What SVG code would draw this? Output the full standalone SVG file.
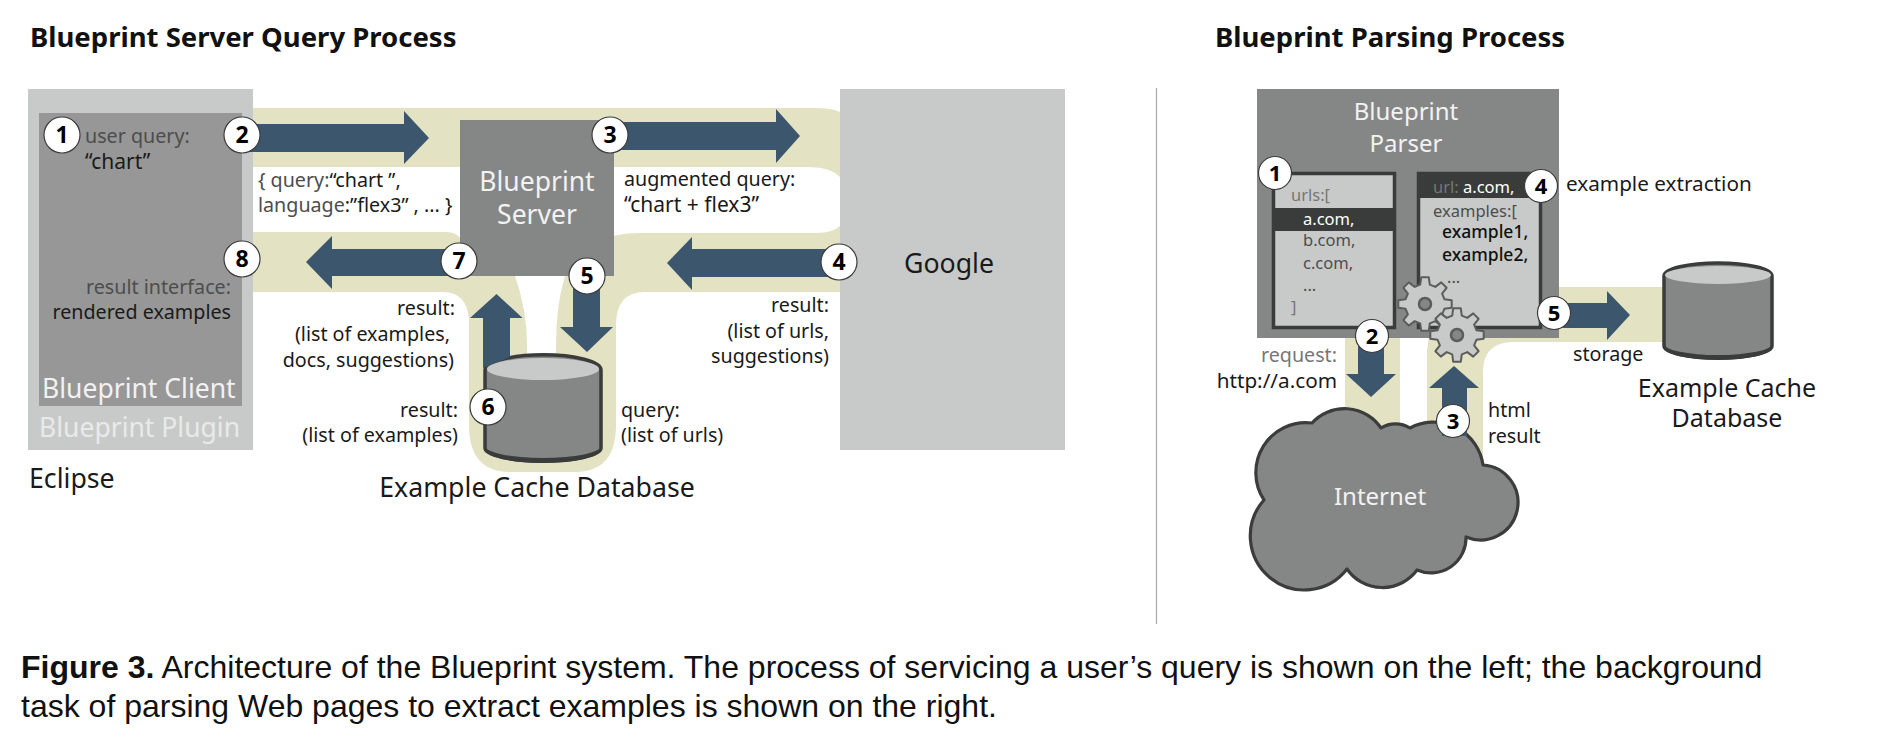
<svg xmlns="http://www.w3.org/2000/svg" width="1880" height="746" viewBox="0 0 1880 746">
<style>
text{font-family:"Noto Sans","Open Sans",sans-serif;font-size:19.700px;fill:#1a1a1a}
.g{fill:#4d4d4d}.lg{fill:#777}
.e{text-anchor:end}.m{text-anchor:middle}
.big{font-size:26.500px;fill:#f2f2f2}
.med{font-size:24px}
.lab{font-size:25px;fill:#1a1a1a}
.lab2{font-size:26.700px;fill:#1a1a1a}
.title{font-size:27.500px;font-weight:700;fill:#111}
.cap{font-family:"Liberation Sans",Arial,sans-serif;font-size:32px;fill:#111}
.num{font-size:23px;font-weight:700;fill:#000;text-anchor:middle}
.num2{font-size:22px}
.badge{fill:#fff;stroke:#3c3c3c;stroke-width:1.2}
.band{fill:#e3e2c3}.cut{fill:#fff}
.arrow{fill:#3b566d}
.dark{fill:#858786}.light{fill:#c8caca}
.edge{stroke:#3a3c3c;stroke-width:3.500}
.band2{fill:#3a3c3c}
.gear{fill:#c8caca;stroke:#5c5c5c;stroke-width:2;stroke-linejoin:round}
.hole{fill:#858786;stroke:#5c5c5c;stroke-width:2.500}
.small{font-size:16.500px}
.ex{font-size:17.500px;font-weight:500;fill:#111}
.wide{font-size:21px}
.wide2{font-size:20.700px}
</style>
<defs>
<path id="gearShape" d="M19.4-4.8L26.7-3.8L26.7 3.8L19.4 4.8L17.1 10.3L21.6 16.2L16.2 21.6L10.3 17.1L4.8 19.4L3.8 26.7L-3.8 26.7L-4.8 19.4L-10.3 17.1L-16.2 21.6L-21.6 16.2L-17.1 10.3L-19.4 4.8L-26.7 3.8L-26.7-3.8L-19.4-4.8L-17.1-10.3L-21.6-16.2L-16.2-21.6L-10.3-17.1L-4.8-19.4L-3.8-26.7L3.8-26.7L4.8-19.4L10.3-17.1L16.2-21.6L21.6-16.2L17.1-10.3Z"/>
</defs>
<rect width="1880" height="746" fill="#fff"/>
<text class="title" x="30" y="47">Blueprint Server Query Process</text>
<text class="title" x="1215" y="47">Blueprint Parsing Process</text>
<line x1="1156.500" y1="88" x2="1156.500" y2="624" stroke="#a8a8a8" stroke-width="1.200"/>

<g id="bands">
<path class="band" d="M253 108H815Q832 108 840 112V292H645Q616 292 616 325V425Q616 472 575 472H510Q469 472 469 425V320Q467 292 443 292H253Z"/>
<path class="cut" d="M253 167H461V240Q458 232 445 232H253Z"/>
<path class="cut" d="M613 167H810Q830 167 840 177V226Q832 233 818 233H640Q625 233 613 236Z"/>
<path class="cut" d="M515 276Q527 310 527 345V360H556V345Q556 305 565 276Z"/>
<path class="band" d="M1430 330H1559V287H1670V342H1510Q1483 344 1483 372V465H1427V350Z"/>
<rect class="band" x="1345" y="330" width="55" height="110"/>
</g>

<g id="node-plugin">
<rect class="light" x="28" y="89" width="225" height="361"/>
<text class="big" x="39" y="437" style="fill:#e8eaea">Blueprint Plugin</text>
</g>
<g id="node-client">
<rect x="39" y="113" width="203" height="293" fill="#979797"/>
<text class="g" x="85" y="143">user query:</text>
<text class="wide" x="85" y="169">“chart”</text>
<text class="g e" x="231" y="294">result interface:</text>
<text class="e" x="231" y="319">rendered examples</text>
<text class="big" x="42" y="398">Blueprint Client</text>
</g>
<g id="node-server">
<rect class="dark" x="460" y="120" width="154" height="156"/>
<text class="big m" x="537" y="191">Blueprint</text>
<text class="big m" x="537" y="224">Server</text>
</g>
<g id="node-google">
<rect class="light" x="840" y="89" width="225" height="361"/>
<text class="lab2 m" x="949" y="273">Google</text>
</g>
<g id="node-cache">
<path class="dark edge" d="M485 370A57.500 15 0 0 1 601 370V448A58 13 0 0 1 485 448Z"/>
<path fill="#3a3c3c" d="M485 446A58 12 0 0 0 601 446V449A58 14 0 0 1 485 449Z"/>
<ellipse class="light" cx="543" cy="369" rx="56" ry="11"/>
<text class="lab2 m" x="537" y="497">Example Cache Database</text>
</g>
<text class="lab2" x="29" y="488">Eclipse</text>

<g id="edge-labels">
<text x="258" y="187"><tspan class="g">{ query:</tspan>“chart ”,</text>
<text x="258" y="212"><tspan class="g">language</tspan>:”flex3” , ... }</text>
<text class="e" x="455" y="315">result:</text>
<text class="e" x="450" y="341">(list of examples,</text>
<text class="e" x="454" y="367">docs, suggestions)</text>
<text class="e" x="458" y="417">result:</text>
<text class="e" x="458" y="442">(list of examples)</text>
<text x="624" y="186">augmented query:</text>
<text class="wide" x="624" y="212">“chart + flex3”</text>
<text class="e" x="829" y="312">result:</text>
<text class="e" x="829" y="338">(list of urls,</text>
<text class="e" x="829" y="363">suggestions)</text>
<text x="621" y="417">query:</text>
<text x="621" y="442">(list of urls)</text>
</g>

<g id="node-parser">
<rect class="dark" x="1257" y="89" width="302" height="249"/>
<text class="big med m" x="1406" y="120">Blueprint</text>
<text class="big med m" x="1406" y="152">Parser</text>
</g>
<g id="node-urls">
<rect class="light edge" x="1273.500" y="173.500" width="121" height="154"/>
<rect class="band2" x="1272" y="208" width="123" height="23"/>
<text class="small lg" x="1291" y="201">urls:[</text>
<text class="small" x="1303" y="225" style="fill:#fff">a.com,</text>
<text class="small g" x="1303" y="246">b.com,</text>
<text class="small g" x="1303" y="269">c.com,</text>
<text class="small g" x="1303" y="291">...</text>
<text class="small lg" x="1291" y="313">]</text>
</g>
<g id="node-examples">
<rect class="light edge" x="1418.500" y="173.500" width="122" height="154"/>
<rect class="band2" x="1417" y="172" width="125" height="26"/>
<text class="small" x="1433" y="193"><tspan class="lg">url:</tspan><tspan style="fill:#fff"> a.com,</tspan></text>
<text class="small g" x="1433" y="217">examples:[</text>
<text class="ex" x="1442" y="238">example1,</text>
<text class="ex" x="1442" y="261">example2,</text>
<text class="small g" x="1447" y="283">...</text>
</g>
<g id="node-internet">
<path fill="#858786" stroke="#3c3c3c" stroke-width="3.200" stroke-linejoin="round" d="M1312 423A44 44 0 0 1 1381 428A28 28 0 0 1 1410 428A50 50 0 0 1 1483 465A37.500 37.500 0 1 1 1466 537A35 35 0 0 1 1417 570A43 43 0 0 1 1347 569A54 54 0 1 1 1264 500A50 50 0 0 1 1312 423Z"/>
<text class="big med m" x="1380" y="505">Internet</text>
</g>
<g id="node-gears">
<use href="#gearShape" class="gear" x="1425" y="304"/>
<circle class="hole" cx="1425" cy="304" r="6"/>
<use href="#gearShape" class="gear" x="1457" y="335"/>
<circle class="hole" cx="1457" cy="335" r="6"/>
</g>
<g id="node-cache2">
<path class="dark edge" d="M1664 276A54 13 0 0 1 1772 276V346A54 12 0 0 1 1664 346Z"/>
<path fill="#3a3c3c" d="M1664 344A54 11 0 0 0 1772 344V347A54 13 0 0 1 1664 347Z"/>
<ellipse class="light" cx="1718" cy="275" rx="53" ry="9"/>
<text class="lab m" x="1727" y="397">Example Cache</text>
<text class="lab m" x="1727" y="427">Database</text>
</g>
<g id="edge-labels-right">
<text class="wide2" x="1566" y="191">example extraction</text>
<text class="lg e" x="1337" y="362">request:</text>
<text class="wide2 e" x="1337" y="388">http://a.com</text>
<text x="1488" y="417">html</text>
<text x="1488" y="443">result</text>
<text x="1573" y="361">storage</text>
</g>

<g id="connectors">
<polygon class="arrow" points="242,124 404,124 404,111 429,138 404,164 404,152 242,152"/>
<polygon class="arrow" points="610,122 776,122 776,109 800,136 776,163 776,150 610,150"/>
<polygon class="arrow" points="839,249 692,249 692,237 667,263 692,290 692,277 839,277"/>
<polygon class="arrow" points="459,249 332,249 332,236 306,262 332,289 332,276 459,276"/>
<polygon class="arrow" points="573,276 573,327 560,327 587,352 613,327 600,327 600,276"/>
<polygon class="arrow" points="483,368 483,318 470,318 496.500,294 522.500,318 510,318 510,357"/>
<polygon class="arrow" points="1358,336 1358,374 1346,374 1371,397 1396,374 1384,374 1384,336"/>
<polygon class="arrow" points="1442,436 1442,388 1429,388 1454,366 1479,388 1467,388 1467,436"/>
<polygon class="arrow" points="1554,303 1607,303 1607,291 1630,315 1607,340 1607,328 1554,328"/>
</g>

<g id="badges">
<g><circle class="badge" cx="62" cy="135" r="18"/><text class="num" x="62" y="143">1</text></g>
<g><circle class="badge" cx="242" cy="135" r="18"/><text class="num" x="242" y="143">2</text></g>
<g><circle class="badge" cx="610" cy="135" r="18"/><text class="num" x="610" y="143">3</text></g>
<g><circle class="badge" cx="839" cy="262" r="18"/><text class="num" x="839" y="270">4</text></g>
<g><circle class="badge" cx="587" cy="276" r="18"/><text class="num" x="587" y="284">5</text></g>
<g><circle class="badge" cx="488" cy="407" r="18"/><text class="num" x="488" y="415">6</text></g>
<g><circle class="badge" cx="459" cy="261" r="18"/><text class="num" x="459" y="269">7</text></g>
<g><circle class="badge" cx="242" cy="259" r="18"/><text class="num" x="242" y="267">8</text></g>
<g><circle class="badge" cx="1275" cy="173" r="16.500"/><text class="num num2" x="1275" y="181">1</text></g>
<g><circle class="badge" cx="1372" cy="336" r="16.500"/><text class="num num2" x="1372" y="344">2</text></g>
<g><circle class="badge" cx="1453" cy="421" r="16.500"/><text class="num num2" x="1453" y="429">3</text></g>
<g><circle class="badge" cx="1541" cy="186" r="16.500"/><text class="num num2" x="1541" y="194">4</text></g>
<g><circle class="badge" cx="1554" cy="313" r="16.500"/><text class="num num2" x="1554" y="321">5</text></g>
</g>

<text class="cap" x="21" y="678"><tspan font-weight="700">Figure 3.</tspan> Architecture of the Blueprint system. The process of servicing a user’s query is shown on the left; the background</text>
<text class="cap" x="21" y="717">task of parsing Web pages to extract examples is shown on the right.</text>
</svg>
